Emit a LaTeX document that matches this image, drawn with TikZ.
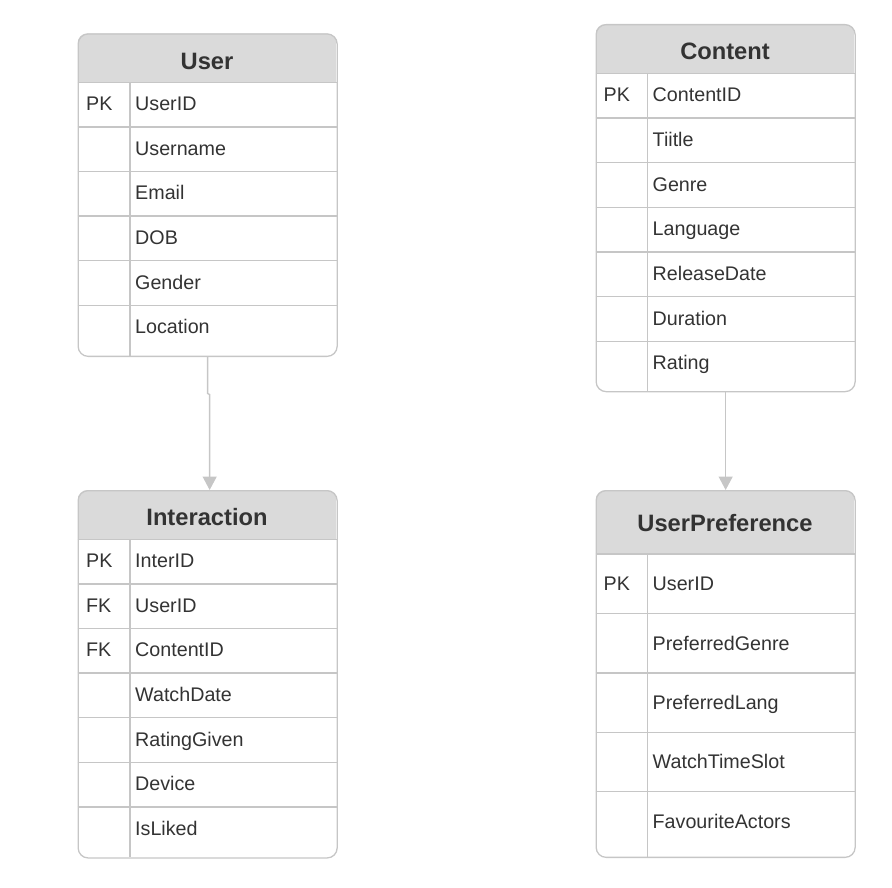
\documentclass[tikz,border=0pt]{standalone}
\usepackage{fontspec}
\setmainfont{Liberation Sans}
\usepackage{xcolor}
\usepackage{tikz}
\usetikzlibrary{positioning,arrows.meta}

\definecolor{hdrfill}{HTML}{DADADA}
\definecolor{gridline}{HTML}{C6C6C6}
\definecolor{inkgray}{HTML}{333333}

\begin{document}
\begin{tikzpicture}[x=1pt, y=-1pt,
  tblframe/.style={draw=gridline, line width=1.3pt, rounded corners=10pt,
    minimum width=259pt, anchor=north west, inner sep=0pt},
  gridrule/.style={draw=gridline, line width=1.3pt},
  tblname/.style={anchor=base, text=inkgray, inner sep=0pt,
    font=\fontsize{23.7}{28}\selectfont\bfseries},
  keytxt/.style={anchor=base west, text=inkgray, inner sep=0pt,
    font=\fontsize{19.7}{24}\selectfont},
  reltn/.style={draw=gridline, line width=1.4pt,
    -{Triangle[length=13.5pt, width=14pt]}}]
  \useasboundingbox (0,0) rectangle (892,888);

  % User table
  \begin{scope}
    \clip[rounded corners=10pt] (77.5,33.3) rectangle (336.5,355.7);
    \fill[hdrfill] (77.5,33.3) rectangle (336.5,82.3);
  \end{scope}
  \node[tblname] (user-h) at (207,69.3) {User};
  \foreach \k/\f [count=\i] in {PK/UserID, /Username, /Email, /DOB, /Gender, /Location} {
    \draw[gridrule] (77.5,{82.3+(\i-1)*44.6}) -- ++(259,0);
    \node[keytxt] (user-k\i) at (86,{110.7+(\i-1)*44.6}) {\k};
    \node[keytxt] (user-f\i) at (135,{110.7+(\i-1)*44.6}) {\f};
  }
  \draw[gridrule] (130,82.3) -- (130,355.7);
  \node[tblframe, minimum height=322.4pt] (user) at (77.5,33.3) {};

  % Interaction table
  \begin{scope}
    \clip[rounded corners=10pt] (77.5,490) rectangle (336.5,857.3);
    \fill[hdrfill] (77.5,490) rectangle (336.5,539.3);
  \end{scope}
  \node[tblname] (inter-h) at (207,525) {Interaction};
  \foreach \k/\f [count=\i] in {PK/InterID, FK/UserID, FK/ContentID, /WatchDate,
      /RatingGiven, /Device, /IsLiked} {
    \draw[gridrule] (77.5,{539.3+(\i-1)*44.6}) -- ++(259,0);
    \node[keytxt] (inter-k\i) at (86,{567.7+(\i-1)*44.6}) {\k};
    \node[keytxt] (inter-f\i) at (135,{567.7+(\i-1)*44.6}) {\f};
  }
  \draw[gridrule] (130,539.3) -- (130,857.3);
  \node[tblframe, minimum height=367.3pt] (inter) at (77.5,490) {};

  % Content table
  \begin{scope}
    \clip[rounded corners=10pt] (595.5,24) rectangle (854.5,391);
    \fill[hdrfill] (595.5,24) rectangle (854.5,73.3);
  \end{scope}
  \node[tblname] (content-h) at (725,59.3) {Content};
  \foreach \k/\f [count=\i] in {PK/ContentID, /Tiitle, /Genre, /Language,
      /ReleaseDate, /Duration, /Rating} {
    \draw[gridrule] (595.5,{73.3+(\i-1)*44.67}) -- ++(259,0);
    \node[keytxt] (content-k\i) at (603.5,{101.7+(\i-1)*44.67}) {\k};
    \node[keytxt] (content-f\i) at (652.5,{101.7+(\i-1)*44.67}) {\f};
  }
  \draw[gridrule] (647.7,73.3) -- (647.7,391);
  \node[tblframe, minimum height=367pt] (content) at (595.5,24) {};

  % UserPreference table
  \begin{scope}
    \clip[rounded corners=10pt] (595.5,490) rectangle (854.5,856.7);
    \fill[hdrfill] (595.5,490) rectangle (854.5,554.1);
  \end{scope}
  \node[tblname] (pref-h) at (725,531.7) {UserPreference};
  \foreach \k/\f [count=\i] in {PK/UserID, /PreferredGenre, /PreferredLang,
      /WatchTimeSlot, /FavouriteActors} {
    \draw[gridrule] (595.5,{554.1+(\i-1)*59.4}) -- ++(259,0);
    \node[keytxt] (pref-k\i) at (603.5,{590.6+(\i-1)*59.4}) {\k};
    \node[keytxt] (pref-f\i) at (652.5,{590.6+(\i-1)*59.4}) {\f};
  }
  \draw[gridrule] (647.7,554.1) -- (647.7,856.7);
  \node[tblframe, minimum height=366.7pt] (pref) at (595.5,490) {};

  % Relations
  \draw[reltn] (user.south) -- ++(0,36.5) -- ++(2,1) -- ([xshift=2pt]inter.north);
  \draw[reltn] (content.south) -- (pref.north);
\end{tikzpicture}
\end{document}
